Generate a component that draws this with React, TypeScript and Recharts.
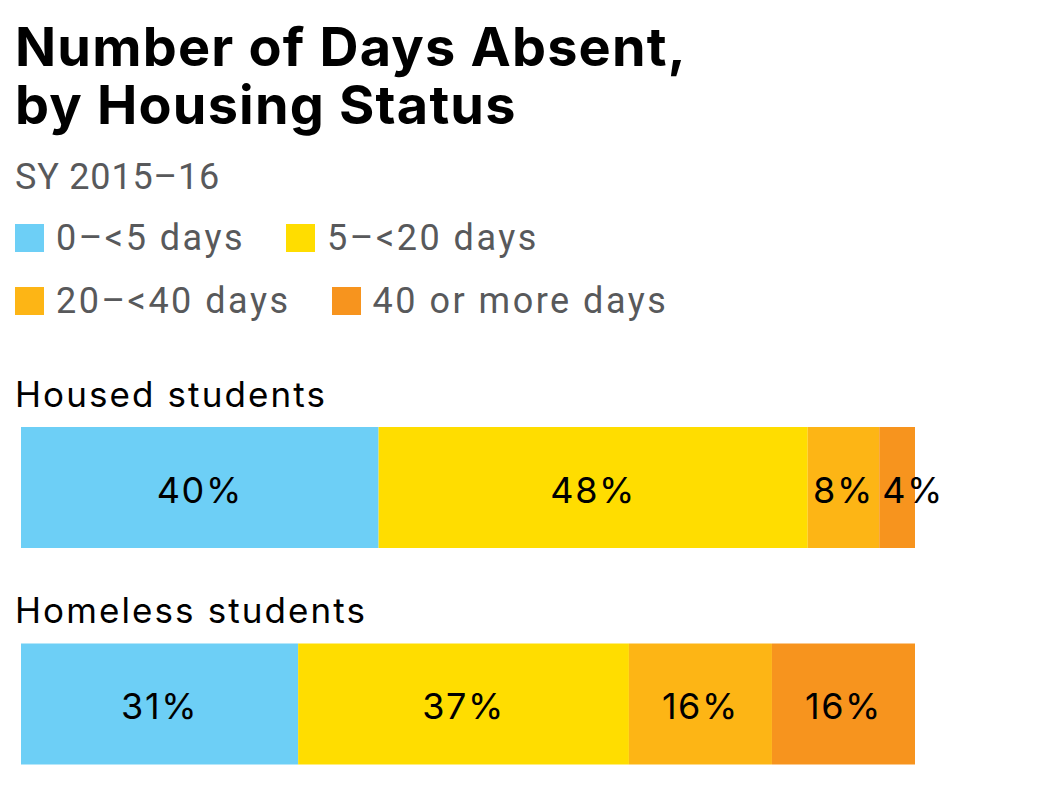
import { BarChart, Bar, XAxis, YAxis, LabelList } from 'recharts'

const categories = ['Housed students', 'Homeless students']
const seriesNames = ['0–<5 days', '5–<20 days', '20–<40 days', '40 or more days']
const seriesKeys = ['under5', 'under20', 'under40', 'over40']
const seriesColors = ['#6dcff6', '#ffdd00', '#fdb515', '#f7941e']
const titleLines = ['Number of Days Absent,', 'by Housing Status']

const under5 = [40, 31]
const under20 = [48, 37]
const under40 = [8, 16]
const over40 = [4, 16]

const data = categories.map((name, i) => ({
  name,
  under5: under5[i],
  under20: under20[i],
  under40: under40[i],
  over40: over40[i],
}))

const labelFont = 'Inter, "DejaVu Sans", sans-serif'

function CategoryTick(props: any) {
  const { y, payload } = props
  return (
    <text
      x={15}
      y={y - 80.5}
      fill="#000"
      fontSize={35}
      fontFamily={labelFont}
      letterSpacing={2.1}
      textAnchor="start"
    >
      {payload.value}
    </text>
  )
}

function SegmentLabel(props: any) {
  const { x, y, width, height, value } = props
  const narrow = width < 45
  return (
    <text
      x={narrow ? x + 3 : x + width / 2}
      y={y + height / 2 + 15}
      textAnchor={narrow ? 'start' : 'middle'}
      fill="#000"
      fontSize={36}
      letterSpacing={1.6}
      fontFamily={labelFont}
    >
      {`${value}%`}
    </text>
  )
}

export default function App() {
  return (
    <div
      style={{
        position: 'absolute',
        left: 0,
        top: 0,
        width: 1050,
        height: 785,
        overflow: 'hidden',
        background: '#fff',
      }}
    >
      {titleLines.map((line, i) => (
        <div
          key={line}
          style={{
            position: 'absolute',
            left: 15,
            top: 20 + i * 58,
            fontFamily: labelFont,
            fontWeight: 700,
            fontSize: 54,
            lineHeight: '54px',
            letterSpacing: 1.2,
            color: '#000',
            whiteSpace: 'nowrap',
          }}
        >
          {line}
        </div>
      ))}
      <div
        style={{
          position: 'absolute',
          left: 15,
          top: 156,
          fontFamily: 'Roboto, sans-serif',
          fontSize: 36,
          lineHeight: '42px',
          letterSpacing: 0.8,
          color: '#58595b',
        }}
      >
        SY 2015–16
      </div>
      {[
        [0, 1],
        [2, 3],
      ].map((row, r) => (
        <div
          key={r}
          style={{
            position: 'absolute',
            left: 15,
            top: 217 + r * 63,
            display: 'flex',
            gap: 41,
            fontFamily: 'Roboto, sans-serif',
            fontSize: 36,
            lineHeight: '42px',
            letterSpacing: 2.5,
            color: '#58595b',
            whiteSpace: 'nowrap',
          }}
        >
          {row.map((i) => (
            <div key={i} style={{ display: 'flex', alignItems: 'center' }}>
              <span
                style={{
                  display: 'inline-block',
                  width: 29,
                  height: 28,
                  background: seriesColors[i],
                  marginRight: 12,
                }}
              />
              <span>{seriesNames[i]}</span>
            </div>
          ))}
        </div>
      ))}
      <div style={{ position: 'absolute', left: 0, top: 0 }}>
        <BarChart
          width={1050}
          height={812}
          data={data}
          layout="vertical"
          margin={{ top: 379, right: 135, bottom: 0, left: 0 }}
          barSize={121}
        >
          <XAxis type="number" domain={[0, 100]} hide />
          <YAxis
            type="category"
            dataKey="name"
            width={21}
            axisLine={false}
            tickLine={false}
            interval={0}
            tick={<CategoryTick />}
          />
          {seriesKeys.map((k, i) => (
            <Bar key={k} dataKey={k} stackId="a" fill={seriesColors[i]} isAnimationActive={false}>
              <LabelList dataKey={k} content={<SegmentLabel />} />
            </Bar>
          ))}
        </BarChart>
      </div>
    </div>
  )
}
